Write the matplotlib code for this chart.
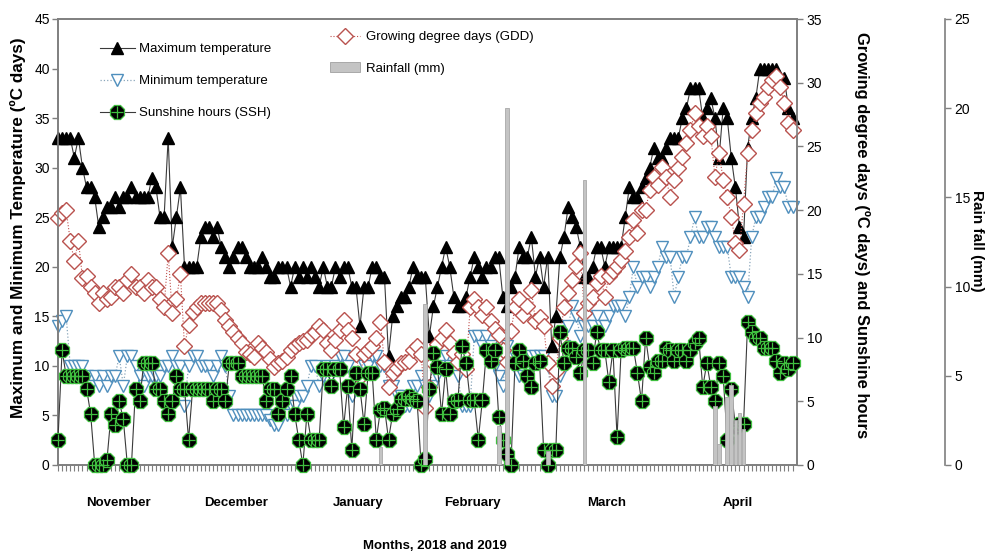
import numpy as np
import matplotlib
matplotlib.use("Agg")
import matplotlib.pyplot as plt
from matplotlib.patches import Patch
from matplotlib.legend_handler import HandlerTuple

plt.rcParams["font.family"] = ["Liberation Sans", "DejaVu Sans"]

# Daily weather record, 1 November 2018 - 30 April 2019
max_temp = [33, 33, 33, 33, 31, 33, 30, 28, 28, 27,
            24, 25, 26, 26, 27, 26, 27, 27, 28, 27,
            27, 27, 27, 29, 28, 25, 25, 33, 22, 25,
            28, 20, 20, 20, 20, 23, 24, 24, 23, 24,
            22, 21, 20, 21, 22, 22, 21, 20, 20, 20,
            21, 20, 19, 19, 20, 20, 20, 18, 20, 19,
            20, 19, 20, 19, 18, 20, 18, 18, 20, 19,
            20, 20, 18, 18, 14, 18, 18, 20, 20, 19,
            19, 11, 15, 16, 17, 17, 18, 20, 19, 19,
            19, 13, 16, 18, 20, 22, 20, 17, 16, 16,
            17, 19, 21, 20, 19, 20, 20, 21, 21, 17,
            16, 18, 19, 22, 21, 21, 23, 19, 21, 18,
            21, 12, 15, 21, 23, 26, 25, 24, 22, 19,
            19, 20, 22, 22, 20, 22, 22, 22, 22, 25,
            28, 27, 27, 28, 29, 30, 32, 31, 31, 32,
            33, 33, 33, 35, 36, 38, 38, 38, 35, 36,
            37, 35, 31, 36, 35, 31, 28, 24, 23, 32,
            35, 37, 40, 40, 40, 40, 40, 39, 39, 36, 35]

min_temp = [14, 14.5, 15, 10, 10, 10, 10, 9, 8, 9,
            8, 9, 8, 9, 9, 11, 8, 11, 11, 10,
            9, 8, 9, 9, 9, 9, 10, 10, 11, 10,
            10, 6, 10, 11, 11, 10, 10, 10, 9, 10,
            11, 10, 7, 5, 5, 5, 5, 5, 5, 5,
            5, 5, 4.5, 4, 4, 5, 5, 6, 6, 7,
            7, 8, 10, 10, 8, 9, 10, 9, 10, 11,
            11, 10, 7, 8, 9, 10, 10, 11, 11, 10,
            10, 8, 8, 7, 7, 6, 6, 8, 8, 9,
            8, 7, 8, 9, 10, 11, 10, 11, 9, 6,
            6, 6, 13, 13, 12, 13, 12, 10, 9, 8,
            12, 11, 11, 9, 9, 10, 11, 11, 11, 11,
            10, 7, 7, 9, 12, 14, 16, 15, 13, 14,
            14, 14, 15, 14, 14, 15, 16, 16, 16, 15,
            17, 20, 18, 19, 19, 18, 19, 20, 22, 21,
            21, 17, 19, 21, 21, 23, 25, 23, 23, 24,
            24, 23, 22, 22, 22, 19, 19, 19, 18, 17,
            23, 25, 25, 26, 27, 27, 29, 28, 28, 26, 26]

gdd = [19.4, 19.8, 20, 17.6, 16, 17.6, 14.7, 14.8, 14, 13.5,
       12.7, 13.5, 13, 13.2, 14, 14, 13.5, 14.5, 15, 14,
       14, 13.5, 14.5, 14, 14, 13, 12.4, 16.6, 11.9, 13,
       15, 9.3, 11, 12, 12.4, 12.7, 12.7, 12.7, 12.7, 12.7,
       12.2, 11.4, 10.9, 10.4, 10, 9.6, 8.9, 8.7, 8.5, 9.6,
       9.2, 8.9, 8.3, 7.7, 8, 8.2, 8.5, 9, 9.3, 9.6,
       9.7, 9.8, 10.2, 10.4, 10.9, 10.6, 9.6, 9, 9.8, 10.6,
       11.4, 10.6, 10, 8.7, 6.9, 8.7, 9, 9.3, 10, 11.2,
       8.1, 6.1, 7.2, 7.6, 8, 8.1, 8.2, 9, 9.3, 8.7,
       4.5, 6.1, 8, 9.5, 10, 10.6, 9.6, 8.8, 8.1, 8.7,
       7.5, 12.4, 13, 12.4, 11.8, 12.4, 11.3, 10.7, 10.2, 9,
       8.1, 10.5, 12.4, 13, 11.8, 12.5, 13.7, 11.3, 11.6, 10.9,
       8, 6.2, 7.4, 10, 12.4, 13.5, 14.5, 15.6, 16.6, 11.9,
       12.7, 13.2, 14.3, 14.8, 13.2, 14.8, 15.2, 15.6, 16.1, 16.8,
       17.9, 19.2, 18.2, 20, 20, 21.6, 22.6, 22, 23.4, 22.6,
       21, 22.4, 23.3, 24.2, 25.3, 26.3, 27.6, 26.6, 25.8, 26.6,
       25.8, 22.6, 24.5, 22.4, 21, 19.5, 17.4, 16.9, 20.5, 24.5,
       26.3, 27.6, 28.4, 28.9, 29.7, 30.2, 30.5, 29.7, 28.4, 26.8, 26.3]

ssh = [2, 9, 7, 7, 7, 7, 7, 6, 4, 0,
       0, 0, 0.4, 4, 3.1, 5, 3.6, 0, 0, 6,
       5, 8, 8, 8, 6, 6, 5, 4, 5, 7,
       6, 6, 2, 6, 6, 6, 6, 6, 5, 6,
       6, 5, 8, 8, 8, 7, 7, 7, 7, 7,
       7, 5, 6, 6, 4, 5, 6, 7, 4, 2,
       0, 4, 2, 2, 2, 7.5, 7.5, 6.2, 7.5, 7.5,
       3, 6.2, 1.2, 7.2, 6, 3.2, 7.2, 7.2, 2, 4.3,
       4.5, 2, 4, 4.4, 5.2, 5.2, 5.4, 5.2, 5, 0,
       0.5, 6, 8.8, 7.7, 4, 7.5, 4, 5, 5.1, 9.3,
       8, 5.1, 5.1, 2, 5.1, 9, 8.2, 9, 3.8, 2,
       0.9, 0, 8, 9, 8.2, 7, 6.1, 8, 8.2, 1.2,
       0, 1.2, 1.2, 10.4, 8, 9.2, 9.2, 8.5, 7.2, 9,
       9, 8, 10.4, 9, 9, 6.5, 9, 2.2, 9, 9.2,
       9.2, 9.2, 7.2, 5, 10, 7.7, 7.2, 8.2, 8.2, 9.2,
       9, 8.2, 9, 9, 8.2, 9, 9.6, 10, 6.1, 8,
       6.1, 5, 8, 7, 2, 6, 3, 3.2, 3.2, 11.2,
       10.4, 10, 10, 9.2, 9.2, 9.2, 8.2, 7.2, 8, 7.5, 8]

rain_day = [79, 90, 108, 110, 120, 129, 161, 162, 164, 165, 166, 167, 168]
rain_mm = [1.0, 9.0, 2.2, 20.0, 0.8, 16.0, 3.3, 1.2, 3.8, 4.5, 2.5, 2.9, 2.0]

months = ["November", "December", "January", "February", "March", "April"]
month_mid_day = [14.7, 43.6, 73.5, 101.5, 134.5, 166.7]

days = np.arange(len(max_temp))

W, H = 987, 554
fig = plt.figure(figsize=(W / 100, H / 100), dpi=100)
L, R, T, B = 58, 797, 19, 465
ax = fig.add_axes([L / W, 1 - B / H, (R - L) / W, (B - T) / H])
ax2 = ax.twinx()
ax3 = ax.twinx()

spine_col = "#7f7f7f"
line_col = "#3a3a3a"

# temperatures on the left axis
l_max, = ax.plot(days, max_temp, color=line_col, lw=0.8, marker="^", ms=9,
                 mfc="black", mec="black", clip_on=False, zorder=3)
l_min, = ax.plot(days, min_temp, color="#8aa6bb", lw=0.9, ls=":", marker="v", ms=9,
                 mfc="white", mec="#4f8fbd", mew=1.0, clip_on=False, zorder=2)

# growing degree days and sunshine hours on the right axis
l_gdd, = ax2.plot(days, gdd, color="#c0504d", lw=0.8, ls=":", marker="D", ms=7.8,
                  mfc="white", mec="#b9524e", mew=1.0, clip_on=False, zorder=2)
l_ssh, = ax2.plot(days, ssh, color=line_col, lw=0.8, marker="8", ms=10.5,
                  mfc="black", mec="#3fbf3f", mew=0.9, clip_on=False, zorder=3)
l_plus, = ax2.plot(days, ssh, ls="none", marker="+", ms=8, mec="#3fbf3f",
                   mew=0.9, clip_on=False, zorder=4)

# rainfall on the outer axis
ax3.bar(rain_day, rain_mm, width=0.9, color="#c4c4c4", edgecolor="#a8a8a8",
        linewidth=0.6, zorder=1)

ax.set_xlim(0, 181.1)
ax.set_ylim(0, 45)
ax2.set_ylim(0, 35)
ax3.set_ylim(0, 25)

ax.set_yticks(np.arange(0, 46, 5))
ax2.set_yticks(np.arange(0, 36, 5))
ax3.set_yticks(np.arange(0, 26, 5))
ax.set_xticks([])
ax.set_xticks(days, minor=True)

for a in (ax, ax2, ax3):
    for s in a.spines.values():
        s.set_color(spine_col)
        s.set_linewidth(1.2)
ax3.spines["right"].set_position(("axes", 1.2))
for side in ("top", "bottom", "left"):
    ax3.spines[side].set_visible(False)

ax.tick_params(axis="y", direction="out", length=4, width=1, color=spine_col,
               labelsize=10, pad=2)
ax.tick_params(axis="x", which="minor", direction="out", length=4, width=0.8,
               color=spine_col)
ax2.tick_params(axis="y", direction="out", length=4, width=1, color=spine_col,
                labelsize=10, pad=3)
ax3.tick_params(axis="y", direction="out", length=4, width=1, color=spine_col,
                labelsize=10, pad=3)

# month names under the daily ticks
for name, d in zip(months, month_mid_day):
    ax.text(d, -0.085, name, transform=ax.get_xaxis_transform(), ha="center",
            va="center", fontsize=9.5, fontweight="bold")
ax.text(0.51, -0.182, "Months, 2018 and 2019", transform=ax.transAxes,
        ha="center", va="center", fontsize=9.5, fontweight="bold")

fig.text(18 / W, 1 - 228 / H, "Maximum and Minimum Temperature (ºC days)",
         rotation=90, ha="center", va="center", fontsize=12.3, fontweight="bold")
fig.text(862 / W, 1 - 235 / H, "Growing degree days (ºC days) and Sunshine hours",
         rotation=270, ha="center", va="center", fontsize=11.9, fontweight="bold")
fig.text(977 / W, 1 - 241 / H, "Rain fall (mm)",
         rotation=270, ha="center", va="center", fontsize=11, fontweight="bold")

leg1 = ax3.legend(handles=[l_max, l_min, (l_ssh, l_plus)],
                  labels=["Maximum temperature", "Minimum temperature",
                          "Sunshine hours (SSH)"],
                  handler_map={tuple: HandlerTuple(ndivide=1)},
                  loc="upper left", bbox_to_anchor=(100 / W, 1 - 43 / H),
                  bbox_transform=fig.transFigure, frameon=False, fontsize=9.5,
                  handlelength=2.65, handletextpad=0.3, labelspacing=1.5,
                  borderpad=0, borderaxespad=0)
ax3.add_artist(leg1)
rain_patch = Patch(facecolor="#c4c4c4", edgecolor="#a0a0a0", linewidth=0.6)
ax3.legend(handles=[l_gdd, rain_patch],
           labels=["Growing degree days (GDD)", "Rainfall (mm)"],
           loc="upper left", bbox_to_anchor=(330 / W, 1 - 31 / H),
           bbox_transform=fig.transFigure, frameon=False, fontsize=9.5,
           handlelength=2.3, handletextpad=0.45, labelspacing=1.45,
           borderpad=0, borderaxespad=0)

fig.savefig("out.png", dpi=100)
